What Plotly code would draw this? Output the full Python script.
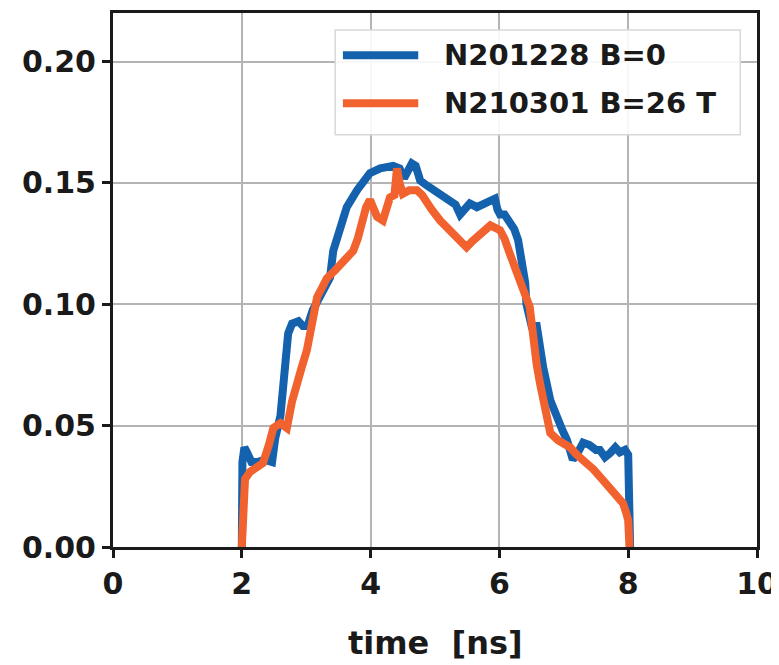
import plotly.graph_objects as go

# Series: N201228 B=0
blue_t = [1.98, 2.0, 2.01, 2.04, 2.08, 2.15, 2.25, 2.35, 2.47, 2.52, 2.6, 2.66, 2.72, 2.78, 2.88, 2.95,
          3.02, 3.1, 3.2, 3.3, 3.37, 3.42, 3.5, 3.63, 3.79, 3.9, 3.99, 4.15, 4.35, 4.45, 4.52, 4.58,
          4.64, 4.7, 4.77, 4.87, 4.97, 5.1, 5.23, 5.32, 5.39, 5.46, 5.54, 5.65, 5.75, 5.85, 5.93, 5.97,
          6.01, 6.08, 6.16, 6.23, 6.29, 6.33, 6.37, 6.4, 6.42, 6.45, 6.5, 6.58, 6.63, 6.68, 6.79, 6.85,
          6.91, 6.98, 7.05, 7.1, 7.14, 7.2, 7.3, 7.4, 7.5, 7.56, 7.64, 7.72, 7.8, 7.87, 7.95, 8.0,
          8.01, 8.03]
blue_v = [0.0, 0.0, 0.035, 0.041, 0.039, 0.035, 0.035, 0.036, 0.035, 0.045, 0.054, 0.07, 0.088, 0.092, 0.093, 0.091,
          0.091, 0.0975, 0.103, 0.108, 0.111, 0.122, 0.128, 0.14, 0.147, 0.151, 0.154, 0.156, 0.157, 0.156, 0.152, 0.155,
          0.158, 0.157, 0.151, 0.149, 0.147, 0.145, 0.142, 0.141, 0.137, 0.139, 0.1415, 0.14, 0.141, 0.142, 0.1435, 0.139,
          0.137, 0.137, 0.1335, 0.131, 0.1265, 0.12, 0.117, 0.109, 0.1, 0.095, 0.091, 0.091, 0.082, 0.074, 0.0605, 0.056,
          0.052, 0.048, 0.044, 0.038, 0.036, 0.038, 0.043, 0.042, 0.040, 0.040, 0.037, 0.0387, 0.041, 0.039, 0.040, 0.038,
          0.02, 0.0]

# Series: N210301 B=26 T
orange_t = [2.0, 2.02, 2.05, 2.13, 2.25, 2.33, 2.42, 2.49, 2.6, 2.7, 2.78, 2.85, 2.93, 3.01, 3.06, 3.11,
            3.17, 3.25, 3.32, 3.45, 3.57, 3.65, 3.73, 3.8, 3.88, 3.93, 3.99, 4.05, 4.1, 4.19, 4.25, 4.3,
            4.37, 4.41, 4.45, 4.5, 4.6, 4.72, 4.8, 4.87, 4.95, 5.08, 5.18, 5.29, 5.4, 5.49, 5.58, 5.7,
            5.8, 5.86, 6.01, 6.08, 6.16, 6.27, 6.37, 6.47, 6.52, 6.58, 6.63, 6.7, 6.79, 6.91, 7.0, 7.1,
            7.2, 7.36, 7.46, 7.56, 7.66, 7.76, 7.85, 7.92, 7.97, 8.0, 8.02]
orange_v = [0.0, 0.015, 0.028, 0.031, 0.033, 0.0346, 0.042, 0.049, 0.051, 0.049, 0.06, 0.0675, 0.074, 0.081, 0.088, 0.0947,
            0.103, 0.107, 0.1107, 0.114, 0.117, 0.12, 0.122, 0.127, 0.1375, 0.14, 0.143, 0.14, 0.136, 0.1345, 0.139, 0.144,
            0.145, 0.156, 0.15, 0.1455, 0.147, 0.147, 0.145, 0.1415, 0.139, 0.1345, 0.132, 0.129, 0.126, 0.1235, 0.126, 0.129,
            0.131, 0.1325, 0.1305, 0.127, 0.121, 0.114, 0.106, 0.099, 0.085, 0.075, 0.0675, 0.058, 0.047, 0.044, 0.043, 0.041,
            0.038, 0.0346, 0.032, 0.029, 0.026, 0.0235, 0.021, 0.018, 0.014, 0.011, 0.0]

series_names = ["N201228 B=0", "N210301 B=26 T"]
series_colors = ["#1462ad", "#f2622f"]

x_ticks = [0, 2, 4, 6, 8, 10]
y_ticks = [0.00, 0.05, 0.10, 0.15, 0.20]
y_tick_labels = ["0.00", "0.05", "0.10", "0.15", "0.20"]
x_title = "time  [ns]"

FONT = "DejaVu Sans"

fig = go.Figure()
fig.add_trace(go.Scatter(x=blue_t, y=blue_v, mode="lines", name=series_names[0],
                         line=dict(color=series_colors[0], width=8), showlegend=False))
fig.add_trace(go.Scatter(x=orange_t, y=orange_v, mode="lines", name=series_names[1],
                         line=dict(color=series_colors[1], width=8), showlegend=False))

axis_common = dict(showline=True, linecolor="#1a1a1a", linewidth=3, mirror=True,
                   showgrid=True, gridcolor="#b4b4b4", gridwidth=1.5,
                   ticks="outside", ticklen=8, tickwidth=3, tickcolor="#1a1a1a",
                   zeroline=False, automargin=False,
                   tickfont=dict(family=FONT, size=30, color="#1a1a1a", weight="bold"))

fig.update_xaxes(range=[0, 10], tickvals=x_ticks, ticktext=[str(t) for t in x_ticks], **axis_common)
fig.update_yaxes(range=[0, 0.22], tickvals=y_ticks, ticktext=y_tick_labels, **axis_common)

# Axis title as annotation
fig.add_annotation(xref="paper", yref="paper", x=0.5, y=-0.18, text=x_title, showarrow=False,
                   xanchor="center", yanchor="middle",
                   font=dict(family=FONT, size=32, color="#1a1a1a", weight="bold"))

# Manual legend (paper coordinates)
fig.add_shape(type="rect", xref="paper", yref="paper", x0=0.345, x1=0.974, y0=0.772, y1=0.968,
              fillcolor="rgba(255,255,255,0.9)", line=dict(color="#d8d8d8", width=1.5), layer="above")
leg_y = [0.921, 0.831]
for i in range(2):
    fig.add_shape(type="line", xref="paper", yref="paper", x0=0.357, x1=0.474, y0=leg_y[i], y1=leg_y[i],
                  line=dict(color=series_colors[i], width=8), layer="above")
    fig.add_annotation(xref="paper", yref="paper", x=0.511, y=leg_y[i], text=series_names[i],
                       showarrow=False, xanchor="left", yanchor="middle",
                       font=dict(family=FONT, size=29, color="#1a1a1a", weight="bold"))

# page body has an 8px margin, so the figure is shrunk by 8px to fit the window
fig.update_layout(width=771, height=657, margin=dict(l=105, r=22, t=5, b=118),
                  paper_bgcolor="white", plot_bgcolor="white", showlegend=False)

fig.write_html("out.html")
